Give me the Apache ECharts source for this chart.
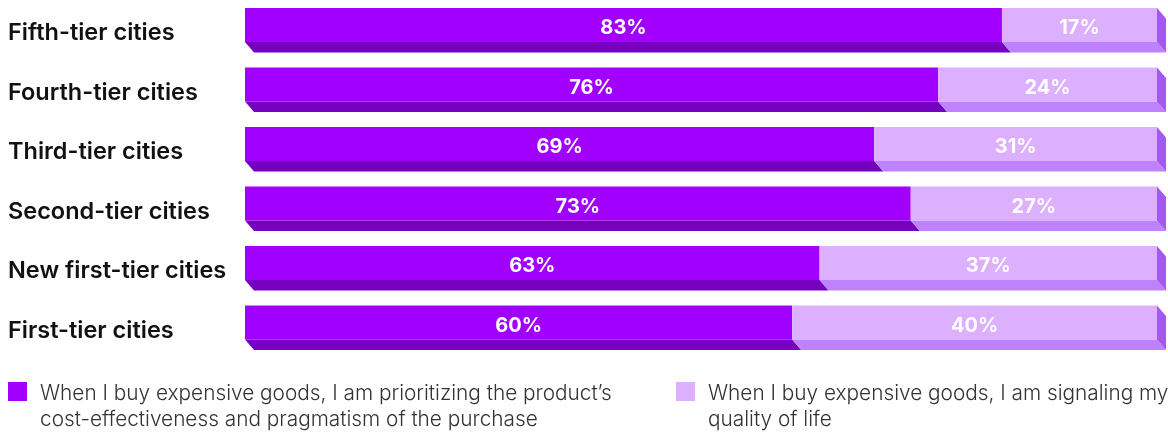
<!DOCTYPE html>
<html>
<head>
<meta charset="utf-8">
<script src="https://cdn.jsdelivr.net/npm/echarts@6/dist/echarts.min.js"></script>
<style>
  html, body { margin: 0; padding: 0; background: #ffffff; }
  #chart { width: 1168px; height: 434px; }
</style>
</head>
<body>
<div id="chart"></div>
<script>
// City tiers, top to bottom
const categories = [
  'Fifth-tier cities',
  'Fourth-tier cities',
  'Third-tier cities',
  'Second-tier cities',
  'New first-tier cities',
  'First-tier cities'
];
// Share of respondents (%)
const pragmatismValues = [83, 76, 69, 73, 63, 60];
const signalingValues = [17, 24, 31, 27, 37, 40];
const seriesNames = [
  'When I buy expensive goods, I am prioritizing the product\u2019s\ncost-effectiveness and pragmatism of the purchase',
  'When I buy expensive goods, I am signaling my\nquality of life'
];

const palette = [
  { front: '#A100FF', bottom: '#7500C0', side: '#7500C0' },
  { front: '#DCAFFF', bottom: '#BE82FF', side: '#A458F2' }
];

// Depth of the extruded bar: bottom face offset
const DX = 9, DY = 10.5;
const FRONT_UP = 21.75, FRONT_H = 34;

function makeRender(seriesIdx) {
  const col = palette[seriesIdx];
  const isLast = seriesIdx === 1;
  return function (params, api) {
    const start = api.value(0), end = api.value(1), cat = api.value(2), val = api.value(3);
    const p0 = api.coord([start, cat]);
    const p1 = api.coord([end, cat]);
    const x0 = p0[0], x1 = p1[0];
    const yTop = p0[1] - FRONT_UP;
    const yBot = yTop + FRONT_H;
    const children = [
      {
        type: 'polygon',
        shape: { points: [[x0, yBot], [x1, yBot], [x1 + DX, yBot + DY], [x0 + DX, yBot + DY]] },
        style: { fill: col.bottom }
      },
      {
        type: 'rect',
        shape: { x: x0, y: yTop, width: x1 - x0, height: FRONT_H },
        style: { fill: col.front }
      }
    ];
    if (isLast) {
      children.push({
        type: 'polygon',
        shape: { points: [[x1, yTop], [x1 + DX, yTop + DY], [x1 + DX, yBot + DY], [x1, yBot]] },
        style: { fill: col.side }
      });
    }
    children.push({
      type: 'text',
      style: {
        x: (x0 + x1) / 2,
        y: yTop + FRONT_H / 2 + 3,
        text: val + '%',
        fill: '#ffffff',
        font: 'bold 20px Inter, "Liberation Sans", sans-serif',
        align: 'center',
        verticalAlign: 'middle'
      }
    });
    return { type: 'group', children: children };
  };
}

const pragData = pragmatismValues.map((v, i) => [0, v, i, v]);
const signData = signalingValues.map((v, i) => [pragmatismValues[i], pragmatismValues[i] + v, i, v]);

// Legend drawn as swatch + two-line text
const legendX = [8, 676];
const legendGraphics = [];
seriesNames.forEach((name, i) => {
  legendGraphics.push({
    type: 'rect',
    left: legendX[i], top: 382,
    shape: { width: 19, height: 19 },
    style: { fill: palette[i].front }
  });
  legendGraphics.push({
    type: 'text',
    left: legendX[i] + 32, top: 381,
    style: {
      text: name,
      fill: '#333333',
      font: '300 20.8px Inter, "Liberation Sans", sans-serif',
      lineHeight: 26
    }
  });
});

const chart = echarts.init(document.getElementById('chart'), null, { renderer: 'canvas' });
chart.setOption({
  animation: false,
  grid: { left: 245, right: 11, top: 0, height: 357, containLabel: false },
  xAxis: { type: 'value', min: 0, max: 100, show: false },
  yAxis: {
    type: 'category',
    data: categories,
    inverse: true,
    axisLine: { show: false },
    axisTick: { show: false },
    splitLine: { show: false },
    axisLabel: {
      align: 'left',
      margin: 237,
      formatter: (v) => '{c|' + v + '}',
      rich: {
        c: {
          color: '#111111',
          fontFamily: 'Inter, "Liberation Sans", sans-serif',
          fontWeight: 600,
          fontSize: 23.5,
          padding: [7, 0, 0, 0]
        }
      }
    }
  },
  graphic: legendGraphics,
  series: [
    { type: 'custom', name: 'pragmatism', renderItem: makeRender(0), data: pragData, encode: { x: [0, 1], y: 2 } },
    { type: 'custom', name: 'signaling', renderItem: makeRender(1), data: signData, encode: { x: [0, 1], y: 2 } }
  ]
});
</script>
</body>
</html>
